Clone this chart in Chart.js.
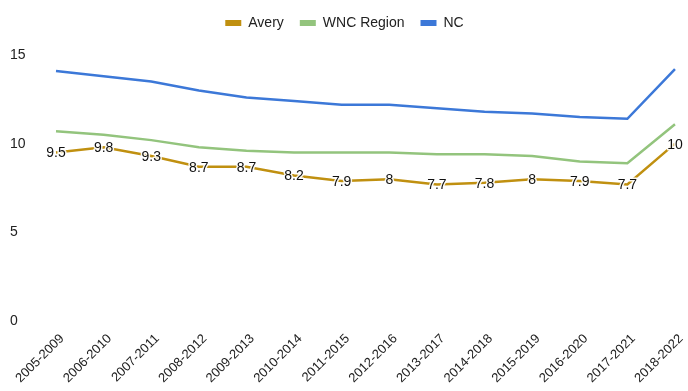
<!DOCTYPE html>
<html>
<head>
<meta charset="utf-8">
<script src="https://cdn.jsdelivr.net/npm/chart.js@4"></script>
<style>
  html, body { margin: 0; padding: 0; background: #fff; }
  #wrap { width: 688px; height: 391px; position: relative; }
</style>
</head>
<body>
<div id="wrap"><canvas id="c"></canvas></div>
<script>
const periods = ['2005-2009','2006-2010','2007-2011','2008-2012','2009-2013','2010-2014','2011-2015','2012-2016','2013-2017','2014-2018','2015-2019','2016-2020','2017-2021','2018-2022'];
const avery = [9.5, 9.8, 9.3, 8.7, 8.7, 8.2, 7.9, 8, 7.7, 7.8, 8, 7.9, 7.7, 10];
const wncRegion = [10.7, 10.5, 10.2, 9.8, 9.6, 9.5, 9.5, 9.5, 9.4, 9.4, 9.3, 9.0, 8.9, 11.1];
const nc = [14.1, 13.8, 13.5, 13.0, 12.6, 12.4, 12.2, 12.2, 12.0, 11.8, 11.7, 11.5, 11.4, 14.2];
const yTicks = [0, 5, 10, 15];

const FONT = 'Liberation Sans, Arial, sans-serif';

// Value labels on the Avery series, with a white halo so they read over the line
const valueLabels = {
  id: 'valueLabels',
  afterDatasetsDraw(chart) {
    const ctx = chart.ctx;
    const meta = chart.getDatasetMeta(0);
    ctx.save();
    ctx.font = '14px ' + FONT;
    ctx.textAlign = 'center';
    ctx.textBaseline = 'middle';
    ctx.lineJoin = 'round';
    meta.data.forEach((pt, i) => {
      const txt = String(avery[i]);
      ctx.strokeStyle = 'rgba(255,255,255,0.9)';
      ctx.lineWidth = 3;
      ctx.strokeText(txt, pt.x, pt.y + 1);
      ctx.fillStyle = '#111';
      ctx.fillText(txt, pt.x, pt.y + 1);
    });
    ctx.restore();
  }
};

// Extra room between the legend row and the plot area
const legendGap = {
  id: 'legendGap',
  afterInit(chart) {
    const lg = chart.legend;
    if (!lg) return;
    const fit = lg.fit.bind(lg);
    lg.fit = function () { fit(); this.height += 15; };
  }
};

const line = (label, data, color) => ({
  label, data,
  borderColor: color,
  backgroundColor: color,
  borderWidth: 2.5,
  pointRadius: 0,
  tension: 0
});

new Chart(document.getElementById('c'), {
  type: 'line',
  data: {
    labels: periods,
    datasets: [
      line('Avery', avery, '#c09010'),
      line('WNC Region', wncRegion, '#93c47d'),
      line('NC', nc, '#3c78d8')
    ]
  },
  options: {
    responsive: true,
    maintainAspectRatio: false,
    animation: false,
    layout: { padding: { top: 0, right: 9, left: 10, bottom: 3 } },
    plugins: {
      tooltip: { enabled: false },
      legend: {
        position: 'top',
        labels: {
          font: { family: FONT, size: 14 },
          color: '#222',
          boxWidth: 16,
          boxHeight: 6,
          padding: 16,
          generateLabels(chart) {
            return chart.data.datasets.map((ds, i) => ({
              text: ds.label,
              fillStyle: ds.borderColor,
              strokeStyle: ds.borderColor,
              lineWidth: 0,
              fontColor: '#222',
              datasetIndex: i
            }));
          }
        }
      }
    },
    scales: {
      x: {
        offset: false,
        grid: { display: false },
        border: { display: false },
        ticks: {
          font: { family: FONT, size: 13 },
          color: '#222',
          minRotation: 45,
          maxRotation: 45,
          autoSkip: false,
          padding: 2,
          labelOffset: 6
        }
      },
      y: {
        min: 0,
        max: 15,
        afterFit(scale) { scale.width = 46; },
        afterBuildTicks(scale) { scale.ticks = yTicks.map(v => ({ value: v })); },
        grid: { display: false },
        border: { display: false },
        ticks: {
          font: { family: FONT, size: 14 },
          color: '#222',
          crossAlign: 'far',
          padding: 10
        }
      }
    }
  },
  plugins: [valueLabels, legendGap]
});
</script>
</body>
</html>
